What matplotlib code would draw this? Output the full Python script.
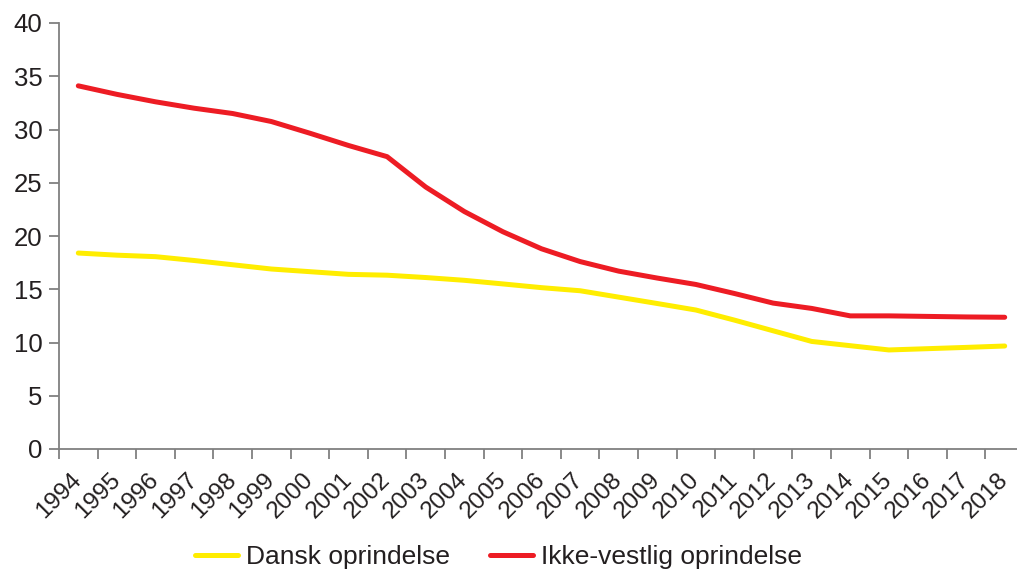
import matplotlib.pyplot as plt
import numpy as np

plt.rcParams['font.family'] = ['Liberation Sans', 'DejaVu Sans']

years = [str(y) for y in range(1994, 2019)]

dansk = [18.4, 18.2, 18.06, 17.7, 17.3, 16.9, 16.65, 16.4, 16.32, 16.1,
         15.84, 15.5, 15.15, 14.86, 14.26, 13.66, 13.05, 12.1, 11.1, 10.1,
         9.7, 9.3, 9.42, 9.54, 9.67]
ikke_vestlig = [34.1, 33.3, 32.6, 32.0, 31.5, 30.75, 29.65, 28.5, 27.45, 24.6,
                22.3, 20.4, 18.8, 17.6, 16.7, 16.05, 15.45, 14.6, 13.7, 13.2,
                12.5, 12.5, 12.45, 12.4, 12.37]

RED = '#ED1C24'
YELLOW = '#FFED00'
AXIS = '#808080'
TEXT = '#231F20'

fig = plt.figure(figsize=(10.17, 5.73), dpi=100)
ax = fig.add_axes([59 / 1017, 124 / 573, 965 / 1017, 426 / 573])

x = np.arange(len(years))
ax.plot(x, dansk, color=YELLOW, lw=3.6, solid_capstyle='round',
        solid_joinstyle='round', label='Dansk oprindelse')
ax.plot(x, ikke_vestlig, color=RED, lw=3.6, solid_capstyle='round',
        solid_joinstyle='round', label='Ikke-vestlig oprindelse')

ax.set_xlim(-0.5, len(years) - 0.5)
ax.set_ylim(0, 40)
ax.set_yticks(range(0, 41, 5))

# tick marks on category boundaries, labels at centres
ax.set_xticks(np.arange(-0.5, len(years)), labels=[])
ax.set_xticks(x, labels=years, minor=True)
ax.tick_params(axis='x', which='minor', length=0, pad=20)
ax.tick_params(axis='both', which='major', length=7, width=1.3, color=AXIS)
ax.tick_params(axis='y', labelsize=18.5, labelcolor=TEXT, pad=5)
for lbl in ax.get_xticklabels(minor=True):
    lbl.set_rotation(45)
    lbl.set_ha('right')
    lbl.set_va('center')
    lbl.set_rotation_mode('anchor')
    lbl.set_fontsize(17.5)
    lbl.set_color(TEXT)

for s in ['top', 'right']:
    ax.spines[s].set_visible(False)
for s in ['left', 'bottom']:
    ax.spines[s].set_color(AXIS)
    ax.spines[s].set_linewidth(1.3)

fig.legend(loc='lower center', bbox_to_anchor=(0.49, -0.035), ncol=2,
           frameon=False, fontsize=19, handlelength=1.65, handletextpad=0.3,
           columnspacing=1.5, labelcolor=TEXT)

fig.savefig('out.png', dpi=100)
